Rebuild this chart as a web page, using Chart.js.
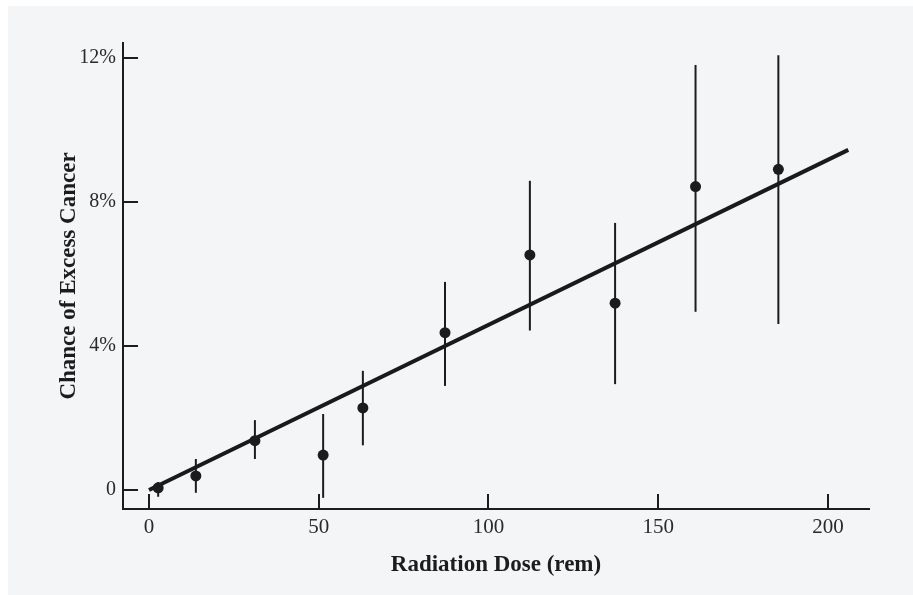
<!DOCTYPE html>
<html>
<head>
<meta charset="utf-8">
<script src="https://cdn.jsdelivr.net/npm/chart.js@4"></script>
<style>
  html, body { margin: 0; padding: 0; background: #fff; }
</style>
</head>
<body>
<canvas id="myChart" width="913" height="595"></canvas>
<script>
// values: dose in rem, chance of excess cancer in %
const doses   = [2.7, 13.8, 31.2, 51.3, 63.0, 87.2, 112.2, 137.3, 161.0, 185.4];
const chance  = [0.06, 0.39, 1.37, 0.97, 2.28, 4.37, 6.53, 5.19, 8.43, 8.91];
const errHigh = [0.22, 0.86, 1.94, 2.11, 3.31, 5.78, 8.59, 7.42, 11.81, 12.08];
const errLow  = [-0.19, -0.08, 0.86, -0.22, 1.24, 2.89, 4.43, 2.94, 4.95, 4.61];

// straight-line fit
const fitX = [0, 206];
const fitY = [0, 9.45];

const xTicks = [0, 50, 100, 150, 200];
const yTicks = [0, 4, 8, 12];
const yTickLabels = ['0', '4%', '8%', '12%'];

const ink = '#1c1c1c';
const serif = 'Liberation Serif';

// scanned paper look
const paper = {
  id: 'paper',
  beforeDraw(chart) {
    const c = chart.ctx;
    c.save();
    c.fillStyle = '#ffffff';
    c.fillRect(0, 0, chart.width, chart.height);
    c.fillStyle = '#f4f5f7';
    c.fillRect(8, 6, chart.width - 8, chart.height - 6);
    c.restore();
  }
};

// vertical error bars from errLow/errHigh
const errorBars = {
  id: 'errorBars',
  beforeDatasetsDraw(chart) {
    const { ctx, scales: { x, y } } = chart;
    ctx.save();
    ctx.strokeStyle = ink;
    ctx.lineWidth = 2;
    doses.forEach((d, i) => {
      const px = x.getPixelForValue(d);
      ctx.beginPath();
      ctx.moveTo(px, y.getPixelForValue(errLow[i]));
      ctx.lineTo(px, y.getPixelForValue(errHigh[i]));
      ctx.stroke();
    });
    ctx.restore();
  }
};

const ctx = document.getElementById('myChart').getContext('2d');
const myChart = new Chart(ctx, {
  type: 'scatter',
  data: {
    datasets: [
      {
        label: 'data',
        data: doses.map((d, i) => ({ x: d, y: chance[i] })),
        backgroundColor: ink,
        borderWidth: 0,
        pointRadius: 5.5
      },
      {
        label: 'fit',
        data: fitX.map((d, i) => ({ x: d, y: fitY[i] })),
        showLine: true,
        borderColor: '#1a1a1a',
        borderWidth: 4,
        pointRadius: 0
      }
    ]
  },
  plugins: [paper, errorBars],
  options: {
    responsive: false,
    animation: false,
    layout: { padding: { top: 43, right: 44, left: 0, bottom: 0 } },
    plugins: { legend: { display: false }, tooltip: { enabled: false } },
    scales: {
      x: {
        type: 'linear',
        position: 'bottom',
        min: -7.66,
        max: 212.1,
        afterBuildTicks: s => { s.ticks = xTicks.map(v => ({ value: v })); },
        afterFit: s => { s.height = 86; },
        grid: { drawOnChartArea: false, drawTicks: true, tickLength: -15, color: ink, lineWidth: 2 },
        border: { display: true, color: ink, width: 2 },
        ticks: { padding: 21, color: '#2a2a2a', font: { family: serif, size: 21 } },
        title: {
          display: true,
          text: 'Radiation Dose (rem)',
          color: ink,
          font: { family: serif, size: 23, weight: 'bold' },
          padding: { bottom: 16 }
        }
      },
      y: {
        type: 'linear',
        position: 'left',
        min: -0.53,
        max: 12.42,
        afterBuildTicks: s => { s.ticks = yTicks.map(v => ({ value: v })); },
        afterFit: s => { s.width = 123; },
        grid: { drawOnChartArea: false, drawTicks: true, tickLength: -15, color: ink, lineWidth: 2 },
        border: { display: true, color: ink, width: 2 },
        ticks: {
          padding: 22,
          color: '#2a2a2a',
          font: { family: serif, size: 20 },
          callback: v => yTickLabels[yTicks.indexOf(v)]
        },
        title: {
          display: true,
          text: 'Chance of Excess Cancer',
          color: ink,
          font: { family: serif, size: 23, weight: 'bold' },
          padding: { top: 55 }
        }
      }
    }
  }
});
</script>
</body>
</html>
